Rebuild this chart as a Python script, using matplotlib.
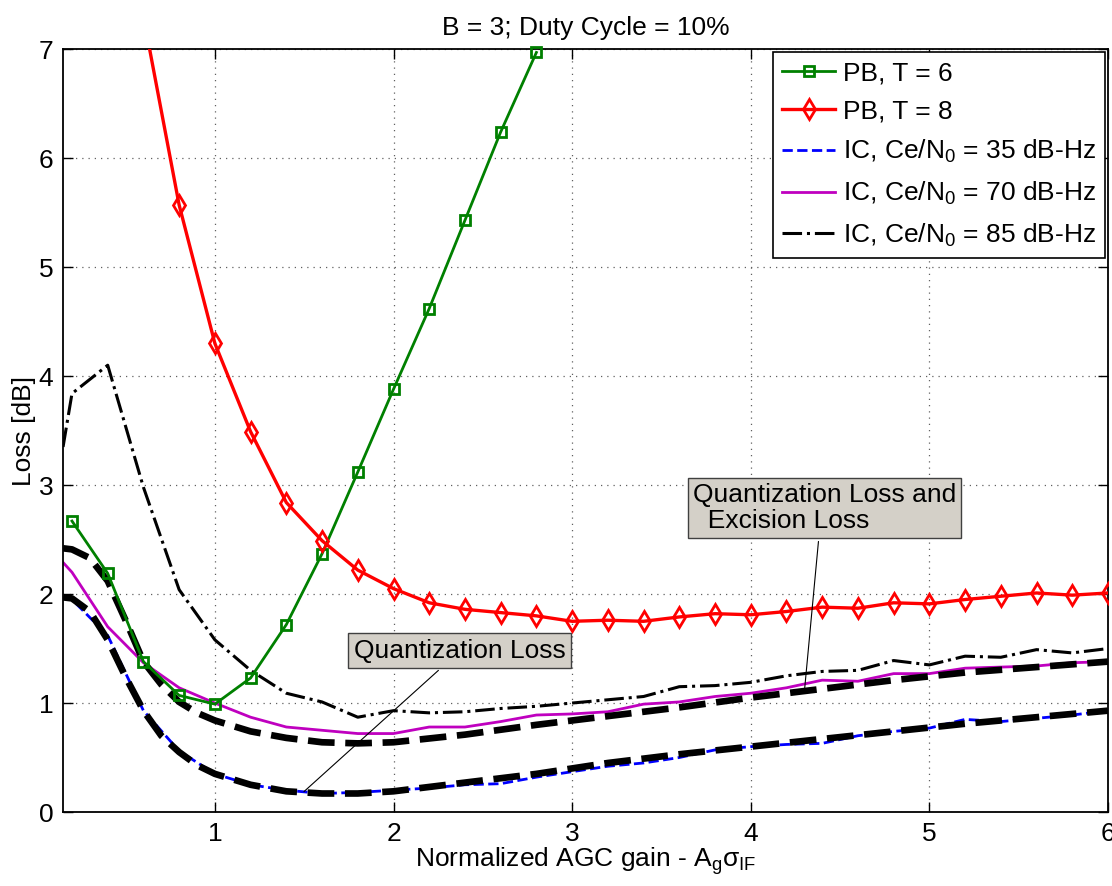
import matplotlib
matplotlib.use("Agg")
import matplotlib.pyplot as plt

plt.rcParams['font.family'] = ['Liberation Sans', 'DejaVu Sans']
plt.rcParams['mathtext.fontset'] = 'custom'
plt.rcParams['mathtext.rm'] = 'Liberation Sans'
plt.rcParams['mathtext.it'] = 'Liberation Sans:italic'
plt.rcParams['font.size'] = 19

# PB curves (markers every 0.2)
x_pb6 = [0.2, 0.4, 0.6, 0.8, 1.0, 1.2, 1.4, 1.6, 1.8, 2.0, 2.2, 2.4, 2.6, 2.8]
pb6 = [2.67, 2.19, 1.38, 1.07, 0.99, 1.23, 1.72, 2.37, 3.12, 3.88, 4.62, 5.43, 6.24, 6.97]

x_pb8 = [0.2, 0.4, 0.6, 0.8, 1.0, 1.2, 1.4, 1.6, 1.8, 2.0, 2.2, 2.4, 2.6, 2.8, 3.0,
         3.2, 3.4, 3.6, 3.8, 4.0, 4.2, 4.4, 4.6, 4.8, 5.0, 5.2, 5.4, 5.6, 5.8, 6.0]
pb8 = [12.5, 9.6, 7.3, 5.57, 4.30, 3.49, 2.84, 2.49, 2.22, 2.05, 1.92, 1.86, 1.83, 1.80, 1.75,
       1.76, 1.75, 1.79, 1.82, 1.81, 1.84, 1.88, 1.87, 1.92, 1.91, 1.95, 1.98, 2.01, 1.99, 2.01]

# IC curves
x_ic = [0.15, 0.2, 0.4, 0.6, 0.8, 1.0, 1.2, 1.4, 1.6, 1.8, 2.0, 2.2, 2.4, 2.6, 2.8, 3.0,
        3.2, 3.4, 3.6, 3.8, 4.0, 4.2, 4.4, 4.6, 4.8, 5.0, 5.2, 5.4, 5.6, 5.8, 6.0]
ic35 = [1.97, 1.95, 1.62, 0.93, 0.56, 0.35, 0.25, 0.20, 0.17, 0.18, 0.20, 0.22, 0.25, 0.26, 0.32, 0.37,
        0.42, 0.45, 0.50, 0.57, 0.60, 0.62, 0.63, 0.70, 0.74, 0.77, 0.85, 0.83, 0.86, 0.89, 0.93]
ic70 = [2.29, 2.20, 1.70, 1.37, 1.14, 1.00, 0.87, 0.78, 0.75, 0.72, 0.72, 0.78, 0.78, 0.83, 0.89, 0.90,
        0.92, 0.99, 1.01, 1.06, 1.09, 1.14, 1.21, 1.20, 1.27, 1.27, 1.32, 1.33, 1.34, 1.37, 1.38]
ic85 = [3.35, 3.84, 4.10, 2.98, 2.04, 1.58, 1.30, 1.09, 1.01, 0.87, 0.93, 0.91, 0.92, 0.95, 0.97, 1.00,
        1.03, 1.06, 1.15, 1.16, 1.19, 1.25, 1.29, 1.30, 1.39, 1.35, 1.43, 1.42, 1.49, 1.46, 1.50]

# theoretical curves (thick black dashed)
x_th = [0.15, 0.2, 0.3, 0.4, 0.5, 0.6, 0.7, 0.8, 0.9, 1.0, 1.2, 1.4, 1.6, 1.8, 2.0,
        2.4, 2.8, 3.2, 3.6, 4.0, 4.4, 4.8, 5.2, 5.6, 6.0]
q_loss = [1.97, 1.96, 1.84, 1.58, 1.24, 0.93, 0.70, 0.55, 0.43, 0.35, 0.25, 0.19, 0.17, 0.17, 0.19,
          0.27, 0.35, 0.45, 0.53, 0.60, 0.67, 0.74, 0.81, 0.87, 0.93]
qe_loss = [2.42, 2.41, 2.33, 2.12, 1.76, 1.38, 1.17, 1.01, 0.91, 0.84, 0.74, 0.68, 0.64, 0.63, 0.64,
           0.71, 0.80, 0.88, 0.96, 1.05, 1.13, 1.21, 1.28, 1.33, 1.38]

fig = plt.figure(figsize=(11.12, 8.86), dpi=100)
ax = fig.add_axes([0.0567, 0.0835, 0.9397, 0.861])

ax.plot(x_pb6, pb6, '-s', color='#008000', lw=2, ms=7, mfc='none', mew=2,
        label='PB, T = 6', clip_on=False, zorder=4)
ax.plot(x_pb8, pb8, '-d', color='#ff0000', lw=2.4, ms=10, mfc='none', mew=2,
        label='PB, T = 8', zorder=4)
ax.plot(x_ic, ic35, '--', color='#0000ff', lw=2, label='IC, Ce/N$_0$ = 35 dB-Hz')
ax.plot(x_ic, ic70, '-', color='#bf00bf', lw=2, label='IC, Ce/N$_0$ = 70 dB-Hz')
ax.plot(x_ic, ic85, '-.', color='black', lw=2.2, label='IC, Ce/N$_0$ = 85 dB-Hz')
ax.plot(x_th, q_loss, color='black', lw=4.8, linestyle=(0, (4, 1.6)), zorder=3)
ax.plot(x_th, qe_loss, color='black', lw=4.8, linestyle=(0, (4, 1.6)), zorder=3)

ax.set_xlim(0.15, 6)
ax.set_ylim(0, 7)
ax.set_xticks([1, 2, 3, 4, 5, 6])
ax.set_yticks(range(8))
ax.grid(True, linestyle=(0, (1, 4)), color='#606060', lw=0.9)
ax.tick_params(direction='in', top=True, right=True, length=7, width=1, pad=7)
for s in ax.spines.values():
    s.set_linewidth(1.3)

ax.set_title('B = 3; Duty Cycle = 10%', fontsize=19, pad=10)
ax.set_xlabel(r'Normalized AGC gain - A$_{\mathrm{g}}$σ$_{\mathrm{IF}}$', labelpad=0)
ax.set_ylabel('Loss [dB]', labelpad=2)

box = dict(boxstyle='square,pad=0.2', fc='#d4d0c8', ec='#404040', lw=1)
ax.annotate('Quantization Loss', xy=(1.487, 0.17), xytext=(2.37, 1.48),
            ha='center', va='center', bbox=box, zorder=6,
            arrowprops=dict(arrowstyle='-', color='black', lw=0.8, relpos=(0.44, 0)))
ax.annotate('Quantization Loss and\n  Excision Loss', xy=(4.30, 1.10), xytext=(4.413, 2.79),
            ha='center', va='center', multialignment='left', bbox=box, zorder=6,
            linespacing=1.1,
            arrowprops=dict(arrowstyle='-', color='black', lw=0.8, relpos=(0.48, 0)))

leg = ax.legend(loc='upper right', fancybox=False, edgecolor='black', framealpha=1,
                handlelength=2.0, borderaxespad=0.1, labelspacing=0.55, handletextpad=0.3,
                borderpad=0.35)
leg.get_frame().set_linewidth(1.2)

fig.savefig('out.png', dpi=100)
